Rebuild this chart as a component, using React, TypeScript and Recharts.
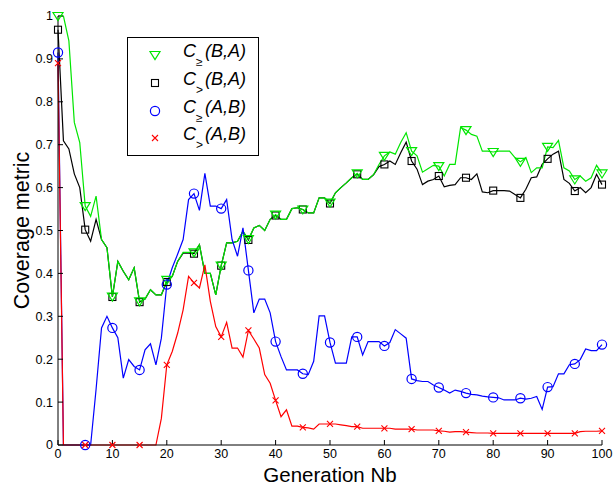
import { Legend, Line, LineChart, XAxis, YAxis } from "recharts";

// C>=(B,A), one value per generation 0..100
const GE_BA = [
  1.0, 1.0, 0.942, 0.752, 0.705, 0.557, 0.533, 0.58, 0.479, 0.46,
  0.346, 0.428, 0.405, 0.385, 0.413, 0.335, 0.34, 0.362, 0.35, 0.35,
  0.385, 0.393, 0.428, 0.449, 0.449, 0.449, 0.467, 0.4, 0.4, 0.35,
  0.418, 0.471, 0.471, 0.475, 0.498, 0.48, 0.506, 0.512, 0.5, 0.526,
  0.537, 0.526, 0.526, 0.551, 0.553, 0.549, 0.541, 0.541, 0.576, 0.576,
  0.565, 0.588, 0.6, 0.611, 0.623, 0.633, 0.619, 0.619, 0.63, 0.654,
  0.674, 0.683, 0.678, 0.705, 0.728, 0.685, 0.674, 0.636, 0.644, 0.652,
  0.65, 0.627, 0.654, 0.654, 0.74, 0.734, 0.724, 0.72, 0.685, 0.685,
  0.683, 0.685, 0.685, 0.685, 0.67, 0.66, 0.67, 0.635, 0.646, 0.646,
  0.695, 0.693, 0.71, 0.646, 0.639, 0.619, 0.627, 0.615, 0.623, 0.652,
  0.633,
];

// C>(B,A)
const GT_BA = [
  0.968, 0.709, 0.69, 0.632, 0.6, 0.502, 0.475, 0.526, 0.479, 0.46,
  0.345, 0.428, 0.405, 0.385, 0.413, 0.333, 0.34, 0.362, 0.35, 0.35,
  0.38, 0.393, 0.428, 0.447, 0.447, 0.446, 0.467, 0.4, 0.4, 0.35,
  0.418, 0.471, 0.471, 0.475, 0.498, 0.478, 0.506, 0.512, 0.5, 0.526,
  0.535, 0.526, 0.526, 0.551, 0.553, 0.549, 0.541, 0.541, 0.576, 0.576,
  0.563, 0.588, 0.6, 0.611, 0.623, 0.631, 0.619, 0.619, 0.63, 0.649,
  0.654, 0.662, 0.654, 0.681, 0.706, 0.662, 0.643, 0.607, 0.615, 0.619,
  0.627, 0.602, 0.605, 0.607, 0.623, 0.623, 0.619, 0.632, 0.59, 0.588,
  0.593, 0.593, 0.593, 0.592, 0.584, 0.576, 0.596, 0.623, 0.625, 0.654,
  0.667, 0.678, 0.685, 0.619, 0.61, 0.592, 0.6, 0.588, 0.6, 0.631,
  0.607,
];

// C>=(A,B)
const GE_AB = [
  0.915, 0, 0, 0, 0, 0, 0, 0.13, 0.273, 0.3,
  0.273, 0.25, 0.156, 0.199, 0.183, 0.175, 0.222, 0.236, 0.187, 0.249,
  0.374, 0.413, 0.445, 0.479, 0.572, 0.586, 0.547, 0.633, 0.557, 0.557,
  0.551, 0.572, 0.479, 0.44, 0.506, 0.407, 0.308, 0.34, 0.34, 0.308,
  0.241, 0.206, 0.175, 0.175, 0.175, 0.166, 0.164, 0.195, 0.301, 0.301,
  0.239, 0.191, 0.191, 0.191, 0.252, 0.252, 0.21, 0.241, 0.241, 0.241,
  0.231, 0.239, 0.269, 0.259, 0.249, 0.154, 0.15, 0.148, 0.148, 0.14,
  0.134, 0.128, 0.121, 0.128, 0.125, 0.121, 0.118, 0.117, 0.114, 0.112,
  0.111, 0.11, 0.105, 0.105, 0.105, 0.109, 0.107, 0.109, 0.113, 0.083,
  0.135, 0.136, 0.166, 0.166, 0.187, 0.189, 0.199, 0.224, 0.22, 0.22,
  0.234,
];

// C>(A,B)
const GT_AB = [
  0.89, 0, 0, 0, 0, 0, 0, 0, 0, 0,
  0, 0, 0, 0, 0, 0, 0, 0, 0, 0.062,
  0.187, 0.218, 0.261, 0.315, 0.393, 0.378, 0.366, 0.42, 0.335, 0.276,
  0.252, 0.286, 0.226, 0.226, 0.205, 0.267, 0.247, 0.226, 0.164, 0.144,
  0.104, 0.066, 0.082, 0.044, 0.044, 0.041, 0.04, 0.037, 0.049, 0.049,
  0.049, 0.049, 0.047, 0.045, 0.043, 0.043, 0.039, 0.039, 0.039, 0.039,
  0.039, 0.039, 0.037, 0.037, 0.037, 0.037, 0.035, 0.035, 0.035, 0.035,
  0.033, 0.032, 0.03, 0.031, 0.031, 0.03, 0.029, 0.028, 0.028, 0.028,
  0.027, 0.027, 0.027, 0.027, 0.027, 0.027, 0.027, 0.027, 0.027, 0.027,
  0.027, 0.027, 0.027, 0.027, 0.027, 0.027, 0.031, 0.032, 0.032, 0.032,
  0.033,
];

const X_TICKS = [0, 10, 20, 30, 40, 50, 60, 70, 80, 90, 100];
const Y_TICKS = [0, 0.1, 0.2, 0.3, 0.4, 0.5, 0.6, 0.7, 0.8, 0.9, 1];
const MARK_EVERY = 5;

const data = GE_BA.map((v, g) => ({
  g,
  geBA: v,
  gtBA: GT_BA[g],
  geAB: GE_AB[g],
  gtAB: GT_AB[g],
}));

type Shape = "tri" | "square" | "circle" | "cross";

const SERIES: { key: string; color: string; shape: Shape; rel: string; args: string }[] = [
  { key: "gtBA", color: "#000000", shape: "square", rel: ">", args: "(B,A)" },
  { key: "geBA", color: "#00e600", shape: "tri", rel: "\u2265", args: "(B,A)" },
  { key: "geAB", color: "#0000ff", shape: "circle", rel: "\u2265", args: "(A,B)" },
  { key: "gtAB", color: "#ff0000", shape: "cross", rel: ">", args: "(A,B)" },
];
const LEGEND_ORDER = ["geBA", "gtBA", "geAB", "gtAB"];

function Marker({ shape, x, y, color }: { shape: Shape; x: number; y: number; color: string }) {
  switch (shape) {
    case "tri":
      return (
        <polygon
          points={`${x - 5},${y - 3.5} ${x + 5},${y - 3.5} ${x},${y + 4.5}`}
          fill="none"
          stroke={color}
          strokeWidth={1.2}
        />
      );
    case "square":
      return <rect x={x - 3.5} y={y - 3.5} width={7} height={7} fill="none" stroke={color} strokeWidth={1.1} />;
    case "circle":
      return <circle cx={x} cy={y} r={4.6} fill="none" stroke={color} strokeWidth={1.2} />;
    default:
      return (
        <path
          d={`M${x - 3},${y - 3}L${x + 3},${y + 3}M${x - 3},${y + 3}L${x + 3},${y - 3}`}
          stroke={color}
          strokeWidth={1.1}
        />
      );
  }
}

const dotFor = (shape: Shape, color: string) => (props: any) => {
  const { cx, cy, index, payload } = props;
  const key = `${shape}-${index}`;
  if (cx == null || cy == null || payload.g % MARK_EVERY !== 0) return <g key={key} />;
  return (
    <g key={key}>
      <Marker shape={shape} x={cx} y={cy} color={color} />
    </g>
  );
};

function LegendBox() {
  const rows = LEGEND_ORDER.map((k) => SERIES.find((s) => s.key === k)!);
  const rowY = [18, 46, 74, 101];
  return (
    <div style={{ width: 132, height: 119, border: "1px solid #000", boxSizing: "border-box", background: "#fff" }}>
      <svg width={130} height={117} style={{ display: "block" }}>
        {rows.map((s, i) => (
          <g key={s.key} fontFamily="'Liberation Sans', Arial, sans-serif" fill="#000">
            <Marker shape={s.shape} x={27} y={rowY[i] - 1} color={s.color} />
            <text x={55} y={rowY[i] + 1} fontSize={18} fontStyle="italic">
              C
            </text>
            <text x={68} y={rowY[i] + 10} fontSize={12}>
              {s.rel}
            </text>
            <text x={77} y={rowY[i] + 1} fontSize={18} fontStyle="italic">
              {s.args}
            </text>
          </g>
        ))}
      </svg>
    </div>
  );
}

const fmtY = (v: number) => (v === 0 ? "0" : v === 1 ? "1" : v.toFixed(1));
const blank = () => "";

export default function App() {
  return (
    <div style={{ position: "absolute", left: 0, top: 0, background: "#fff" }}>
      <LineChart
        width={613}
        height={485}
        data={data}
        margin={{ top: 16, right: 11, bottom: 0, left: 8 }}
        style={{ fontFamily: "'Liberation Sans', Arial, sans-serif" }}
      >
        <XAxis
          dataKey="g"
          type="number"
          domain={[0, 100]}
          ticks={X_TICKS}
          interval={0}
          height={40}
          stroke="#000"
          tickSize={-5}
          tickMargin={9}
          tick={{ fontSize: 12.5, fill: "#000" }}
          label={{ value: "Generation Nb", position: "insideBottom", offset: 3, fontSize: 20.5, fill: "#000" }}
        />
        <XAxis
          xAxisId="top"
          orientation="top"
          dataKey="g"
          type="number"
          domain={[0, 100]}
          ticks={X_TICKS}
          interval={0}
          height={0}
          stroke="#000"
          tickSize={-5}
          tickFormatter={blank}
        />
        <YAxis
          type="number"
          domain={[0, 1]}
          ticks={Y_TICKS}
          interval={0}
          width={50}
          stroke="#000"
          tickSize={-5}
          tickMargin={10}
          tickFormatter={fmtY}
          tick={{ fontSize: 12.5, fill: "#000" }}
          label={{
            value: "Coverage metric",
            angle: -90,
            position: "insideLeft",
            offset: 13,
            fontSize: 21.5,
            fill: "#000",
            style: { textAnchor: "middle" },
          }}
        />
        <YAxis
          yAxisId="right"
          orientation="right"
          type="number"
          domain={[0, 1]}
          ticks={Y_TICKS}
          interval={0}
          width={0}
          stroke="#000"
          tickSize={-5}
          tickFormatter={blank}
        />
        <Legend
          layout="horizontal"
          verticalAlign="middle"
          align="center"
          wrapperStyle={{ left: 127, top: 37, width: 132, height: 119 }}
          content={() => <LegendBox />}
        />
        {SERIES.map((s) => (
          <Line
            key={s.key}
            dataKey={s.key}
            type="linear"
            stroke={s.color}
            strokeWidth={1.2}
            dot={dotFor(s.shape, s.color)}
            activeDot={false}
            isAnimationActive={false}
          />
        ))}
      </LineChart>
    </div>
  );
}
